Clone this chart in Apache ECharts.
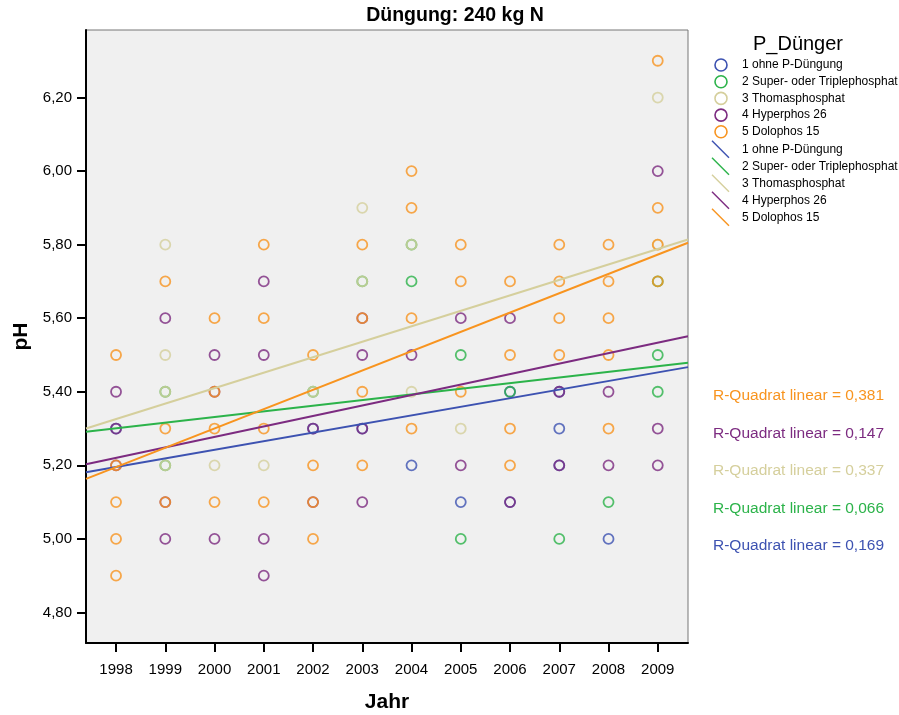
<!DOCTYPE html>
<html>
<head>
<meta charset="utf-8">
<title>Düngung: 240 kg N</title>
<script src="https://cdn.jsdelivr.net/npm/echarts@6.0.0/dist/echarts.min.js"></script>
<style>
  html, body { margin: 0; padding: 0; background: #fff; }
  #chart { width: 899px; height: 715px; }
</style>
</head>
<body>
<div id="chart"></div>
<script>
// Gruppen (P_Dünger)
const groups = ['1 ohne P-Düngung', '2 Super- oder Triplephosphat', '3 Thomasphosphat', '4 Hyperphos 26', '5 Dolophos 15'];
const colors = ['#3d52b1', '#2cb34a', '#d5cf9c', '#7c2b80', '#f8941f'];

const years = [1998, 1999, 2000, 2001, 2002, 2003, 2004, 2005, 2006, 2007, 2008, 2009];
const yTicks = [4.8, 5.0, 5.2, 5.4, 5.6, 5.8, 6.0, 6.2];

const ptsOhne = [[1998, 5.3], [2002, 5.3], [2003, 5.3], [2004, 5.2], [2005, 5.1], [2006, 5.4], [2006, 5.1],
  [2007, 5.4], [2007, 5.3], [2007, 5.2], [2008, 5.0]];
const ptsSuper = [[1999, 5.4], [1999, 5.2], [2002, 5.4], [2003, 5.7], [2004, 5.8], [2004, 5.7], [2005, 5.5],
  [2005, 5.0], [2006, 5.4], [2007, 5.0], [2008, 5.1], [2009, 5.7], [2009, 5.5], [2009, 5.4]];
const ptsThomas = [[1999, 5.8], [1999, 5.5], [1999, 5.4], [1999, 5.2], [2000, 5.2], [2001, 5.2], [2002, 5.4],
  [2003, 5.9], [2003, 5.7], [2004, 5.8], [2004, 5.4], [2005, 5.3], [2009, 6.2], [2009, 5.8]];
const ptsHyper = [[1998, 5.4], [1998, 5.3], [1998, 5.2], [1999, 5.6], [1999, 5.1], [1999, 5.0], [2000, 5.5],
  [2000, 5.4], [2000, 5.0], [2001, 5.7], [2001, 5.5], [2001, 5.0], [2001, 4.9], [2002, 5.3], [2002, 5.1],
  [2003, 5.6], [2003, 5.5], [2003, 5.3], [2003, 5.1], [2004, 5.5], [2005, 5.6], [2005, 5.2], [2006, 5.6],
  [2006, 5.1], [2007, 5.4], [2007, 5.2], [2008, 5.4], [2008, 5.2], [2009, 6.0], [2009, 5.3], [2009, 5.2]];
const ptsDolo = [[1998, 5.5], [1998, 5.2], [1998, 5.1], [1998, 5.0], [1998, 4.9], [1999, 5.7], [1999, 5.3],
  [1999, 5.1], [2000, 5.6], [2000, 5.4], [2000, 5.3], [2000, 5.1], [2001, 5.8], [2001, 5.6], [2001, 5.3],
  [2001, 5.1], [2002, 5.5], [2002, 5.2], [2002, 5.1], [2002, 5.0], [2003, 5.8], [2003, 5.6], [2003, 5.4],
  [2003, 5.2], [2004, 6.0], [2004, 5.9], [2004, 5.6], [2004, 5.3], [2005, 5.8], [2005, 5.7], [2005, 5.4],
  [2006, 5.7], [2006, 5.5], [2006, 5.3], [2006, 5.2], [2007, 5.8], [2007, 5.7], [2007, 5.6], [2007, 5.5],
  [2008, 5.8], [2008, 5.7], [2008, 5.6], [2008, 5.5], [2008, 5.3], [2009, 6.3], [2009, 5.9], [2009, 5.8],
  [2009, 5.7]];
const points = [ptsOhne, ptsSuper, ptsThomas, ptsHyper, ptsDolo];

// Regressionsgeraden: pH am linken und rechten Achsenende
const fitLeft = [5.181, 5.291, 5.300, 5.203, 5.163];
const fitRight = [5.467, 5.479, 5.814, 5.551, 5.805];
const rSquared = [0.169, 0.066, 0.337, 0.147, 0.381];

const X_MIN = 1997.39, X_MAX = 2009.614;
const Y_MIN = 4.7169, Y_MAX = 6.3836;

const FONT = '"Liberation Sans", Arial, sans-serif';
const comma = (v, d) => v.toFixed(d).replace('.', ',');

let series = [];
points.forEach((pts, i) => {
  series.push({
    type: 'scatter',
    name: groups[i],
    data: pts,
    symbol: 'circle',
    symbolSize: 10,
    itemStyle: { color: 'rgba(0,0,0,0)', borderColor: colors[i], borderWidth: 1.8 },
    z: 2
  });
});
fitLeft.forEach((v, i) => {
  series.push({
    type: 'line',
    name: groups[i] + ' (linear)',
    data: [[X_MIN, v], [X_MAX, fitRight[i]]],
    showSymbol: false,
    lineStyle: { color: colors[i], width: 2 },
    z: 3
  });
});

// Legende + R-Quadrat als Grafik
let graphic = [
  { type: 'text', x: 455, y: 16, style: { text: 'Düngung: 240 kg N', font: 'bold 19.5px ' + FONT, fill: '#000', align: 'center', verticalAlign: 'middle' } },
  { type: 'text', x: 798, y: 44, style: { text: 'P_Dünger', font: '20px ' + FONT, fill: '#000', align: 'center', verticalAlign: 'middle' } }
];
groups.forEach((g, i) => {
  let yc = 65 + i * 16.7;
  graphic.push({ type: 'circle', shape: { cx: 721, cy: yc, r: 6 }, style: { fill: 'none', stroke: colors[i], lineWidth: 1.6 } });
  graphic.push({ type: 'text', x: 742, y: yc, style: { text: g, font: '12px ' + FONT, fill: '#000', verticalAlign: 'middle' } });
  let yl = 149.3 + i * 17;
  graphic.push({ type: 'line', shape: { x1: 712, y1: yl - 8.5, x2: 729, y2: yl + 8.5 }, style: { stroke: colors[i], lineWidth: 1.4 } });
  graphic.push({ type: 'text', x: 742, y: yl, style: { text: g, font: '12px ' + FONT, fill: '#000', verticalAlign: 'middle' } });
});
// von oben: Dolophos, Hyperphos, Thomas, Super, ohne
[4, 3, 2, 1, 0].forEach((gi, k) => {
  graphic.push({
    type: 'text', x: 713, y: 396 + k * 37.5,
    style: { text: 'R-Quadrat linear = ' + comma(rSquared[gi], 3), font: '15.5px ' + FONT, fill: colors[gi], verticalAlign: 'middle' }
  });
});

const chart = echarts.init(document.getElementById('chart'), null, { renderer: 'canvas' });
chart.setOption({
  animation: false,
  backgroundColor: '#fff',
  textStyle: { fontFamily: FONT },
  grid: {
    left: 86, right: 211, top: 30, bottom: 72,
    show: true, backgroundColor: '#f0f0f0', borderColor: '#777', borderWidth: 1,
    outerBoundsMode: 'none'
  },
  xAxis: {
    type: 'value',
    min: X_MIN, max: X_MAX,
    name: 'Jahr',
    nameLocation: 'middle',
    nameGap: 49,
    nameTextStyle: { fontSize: 21, fontWeight: 'bold', color: '#000', fontFamily: FONT },
    axisLine: { show: true, lineStyle: { color: '#000', width: 2 } },
    axisTick: { show: true, customValues: years, length: 9, lineStyle: { color: '#000', width: 2 } },
    axisLabel: { customValues: years, formatter: v => String(v), fontSize: 15, color: '#000', margin: 19, fontFamily: FONT },
    splitLine: { show: false }
  },
  yAxis: {
    type: 'value',
    min: Y_MIN, max: Y_MAX,
    name: 'pH',
    nameLocation: 'middle',
    nameGap: 52,
    nameTextStyle: { fontSize: 21, fontWeight: 'bold', color: '#000', fontFamily: FONT },
    axisLine: { show: true, lineStyle: { color: '#000', width: 2 } },
    axisTick: { show: true, customValues: yTicks, length: 9, lineStyle: { color: '#000', width: 2 } },
    axisLabel: { customValues: yTicks, formatter: v => comma(v, 2), fontSize: 15, color: '#000', margin: 14, fontFamily: FONT },
    splitLine: { show: false }
  },
  series: series,
  graphic: graphic
});
</script>
</body>
</html>
